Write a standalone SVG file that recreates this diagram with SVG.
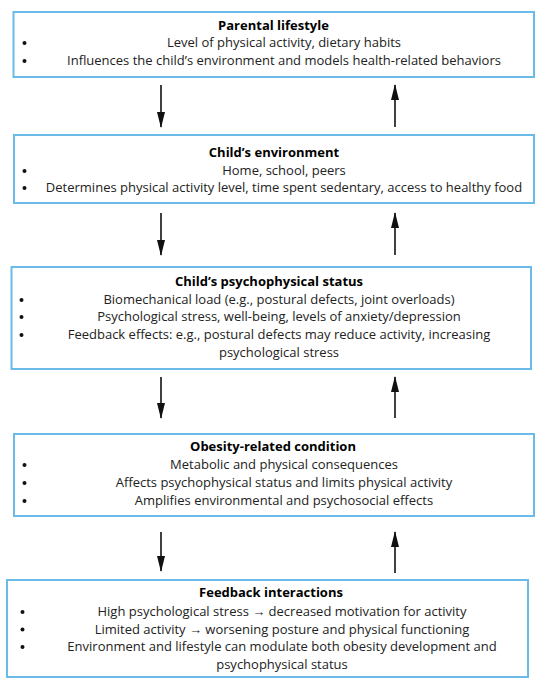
<svg xmlns="http://www.w3.org/2000/svg" width="550" height="691" viewBox="0 0 550 691">
<defs>
<style>
.box{fill:#fff;stroke:#6bbbe8;stroke-width:2}
.t{font-family:"Open Sans","Noto Sans",sans-serif;font-size:13px;fill:#222;text-anchor:middle}
.h{font-weight:bold;fill:#000}
.b{fill:#111}
.a{stroke:#111;stroke-width:1.6;fill:none}
</style>
<marker id="arr" viewBox="0 0 16 8" refX="15" refY="4" markerWidth="16" markerHeight="8" markerUnits="userSpaceOnUse" orient="auto">
<path d="M0,0 L16,4 L0,8 Z" fill="#111"/>
</marker>
</defs>
<rect width="550" height="691" fill="#fff"/>
<g id="n1">
<rect class="box" x="13.5" y="12" width="520.5" height="65"/>
<text class="t h" x="273.5" y="29.5">Parental lifestyle</text>
<circle class="b" cx="24.5" cy="43" r="2"/>
<circle class="b" cx="24.5" cy="61" r="2"/>
<text class="t" x="284" y="47.3">Level of physical activity, dietary habits</text>
<text class="t" x="284" y="65.3">Influences the child’s environment and models health-related behaviors</text>
</g>
<g id="n2">
<rect class="box" x="14" y="135" width="520" height="68"/>
<text class="t h" x="274" y="157">Child’s environment</text>
<circle class="b" cx="24.5" cy="171" r="2"/>
<circle class="b" cx="24.5" cy="188" r="2"/>
<text class="t" x="284" y="175">Home, school, peers</text>
<text class="t" x="284" y="192">Determines physical activity level, time spent sedentary, access to healthy food</text>
</g>
<g id="n3">
<rect class="box" x="11.5" y="267" width="519.5" height="102"/>
<text class="t h" x="269" y="286">Child’s psychophysical status</text>
<circle class="b" cx="21.5" cy="300" r="2"/>
<circle class="b" cx="21.5" cy="317" r="2"/>
<circle class="b" cx="21.5" cy="335" r="2"/>
<text class="t" x="279" y="304">Biomechanical load (e.g., postural defects, joint overloads)</text>
<text class="t" x="279" y="321">Psychological stress, well-being, levels of anxiety/depression</text>
<text class="t" x="279" y="339">Feedback effects: e.g., postural defects may reduce activity, increasing</text>
<text class="t" x="279" y="357">psychological stress</text>
</g>
<g id="n4">
<rect class="box" x="14" y="434" width="520" height="82"/>
<text class="t h" x="273" y="451">Obesity-related condition</text>
<circle class="b" cx="24.5" cy="465" r="2"/>
<circle class="b" cx="24.5" cy="483" r="2"/>
<circle class="b" cx="24.5" cy="501" r="2"/>
<text class="t" x="284" y="469">Metabolic and physical consequences</text>
<text class="t" x="284" y="487">Affects psychophysical status and limits physical activity</text>
<text class="t" x="284" y="505">Amplifies environmental and psychosocial effects</text>
</g>
<g id="n5">
<rect class="box" x="7" y="580" width="521" height="97"/>
<text class="t h" x="271" y="597">Feedback interactions</text>
<circle class="b" cx="22.5" cy="612" r="2"/>
<circle class="b" cx="22.5" cy="629.5" r="2"/>
<circle class="b" cx="22.5" cy="647" r="2"/>
<text class="t" x="282" y="616">High psychological stress → decreased motivation for activity</text>
<text class="t" x="282" y="633.5">Limited activity → worsening posture and physical functioning</text>
<text class="t" x="282" y="651">Environment and lifestyle can modulate both obesity development and</text>
<text class="t" x="282" y="669">psychophysical status</text>
</g>
<g id="connectors">
<line class="a" x1="161" y1="85" x2="161" y2="127" marker-end="url(#arr)"/>
<line class="a" x1="395" y1="127" x2="395" y2="85" marker-end="url(#arr)"/>
<line class="a" x1="161" y1="213" x2="161" y2="255" marker-end="url(#arr)"/>
<line class="a" x1="395" y1="255" x2="395" y2="213" marker-end="url(#arr)"/>
<line class="a" x1="161" y1="377" x2="161" y2="418" marker-end="url(#arr)"/>
<line class="a" x1="395" y1="418" x2="395" y2="377" marker-end="url(#arr)"/>
<line class="a" x1="161" y1="532" x2="161" y2="571" marker-end="url(#arr)"/>
<line class="a" x1="395" y1="573" x2="395" y2="532" marker-end="url(#arr)"/>
</g>
</svg>
